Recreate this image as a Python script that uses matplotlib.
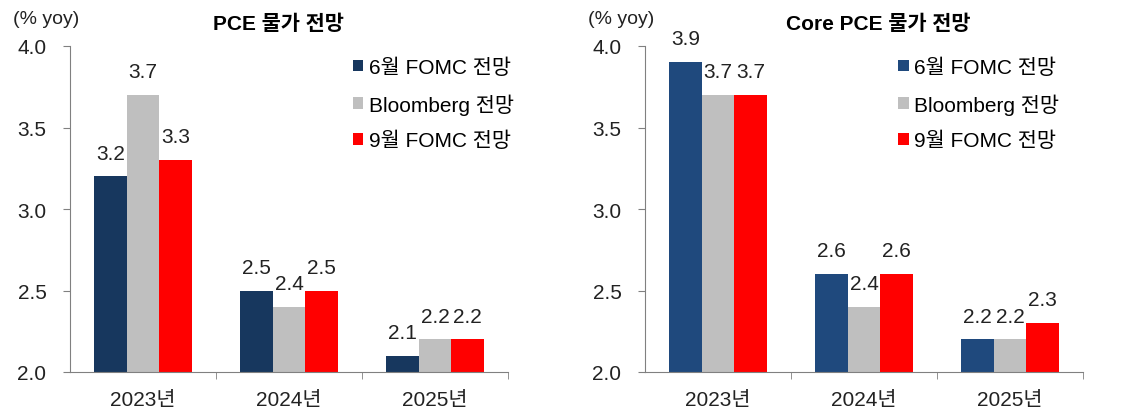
import numpy as np
import matplotlib
matplotlib.use("Agg")
import matplotlib.pyplot as plt

plt.rcParams['font.family'] = ['Liberation Sans', 'Noto Sans CJK KR', 'DejaVu Sans']

years = ['2023년', '2024년', '2025년']
series_names = ['6월 FOMC 전망', 'Bloomberg 전망', '9월 FOMC 전망']
pce_jun = [3.2, 2.5, 2.1]
pce_bbg = [3.7, 2.4, 2.2]
pce_sep = [3.3, 2.5, 2.2]
core_jun = [3.9, 2.6, 2.2]
core_bbg = [3.7, 2.4, 2.2]
core_sep = [3.7, 2.6, 2.3]

fig = plt.figure(figsize=(11.41, 4.10), dpi=100)
ax1 = fig.add_axes([70 / 1141, 1 - 373 / 410, 438 / 1141, 326 / 410])
ax2 = fig.add_axes([645 / 1141, 1 - 373 / 410, 438 / 1141, 326 / 410])


def draw(ax, data, colors, title, title_x, leg_x):
    x = np.arange(len(years))
    w = 0.222
    for i, (vals, col, name) in enumerate(zip(data, colors, series_names)):
        pos = x + (i - 1) * w
        ax.bar(pos, vals, width=w, color=col, label=name, zorder=2)
        for p, v in zip(pos, vals):
            ax.text(p, v + 0.085, f'{v:.1f}', ha='center', va='bottom',
                    fontsize=15, color='#222222')
    ax.set_ylim(2.0, 4.0)
    ax.set_xlim(-0.5, 2.5)
    ax.set_yticks([2.0, 2.5, 3.0, 3.5, 4.0])
    ax.set_yticklabels(['2.0', '2.5', '3.0', '3.5', '4.0'])
    ax.set_xticks(x)
    ax.set_xticklabels(years)
    ax.set_xticks([0.5, 1.5, 2.5], minor=True)
    ax.tick_params(axis='x', which='major', length=0, pad=13, labelsize=15, colors='#222222')
    ax.tick_params(axis='x', which='minor', length=5, direction='out', color='#808080')
    ax.tick_params(axis='y', length=5, direction='out', pad=12, labelsize=15,
                   color='#808080', labelcolor='#222222')
    for s in ['top', 'right']:
        ax.spines[s].set_visible(False)
    for s in ['left', 'bottom']:
        ax.spines[s].set_color('#808080')
    ax.text(title_x, 1.07, title, transform=ax.transAxes, ha='center',
            va='center', fontsize=15, fontweight='bold')
    ax.text(-0.13, 1.085, '(% yoy)', transform=ax.transAxes, ha='left',
            va='center', fontsize=14, color='#222222')
    ax.legend(loc='upper left', bbox_to_anchor=(leg_x, 0.965), frameon=False,
              fontsize=15, handlelength=0.5, handleheight=0.5,
              handletextpad=0.25, labelspacing=0.78, borderpad=0,
              borderaxespad=0)


draw(ax1, [pce_jun, pce_bbg, pce_sep], ['#17375E', '#BFBFBF', '#FF0000'],
     'PCE 물가 전망', 0.475, 0.646)
draw(ax2, [core_jun, core_bbg, core_sep], ['#1F497D', '#BFBFBF', '#FF0000'],
     'Core PCE 물가 전망', 0.532, 0.578)

fig.savefig('out.png', dpi=100)
